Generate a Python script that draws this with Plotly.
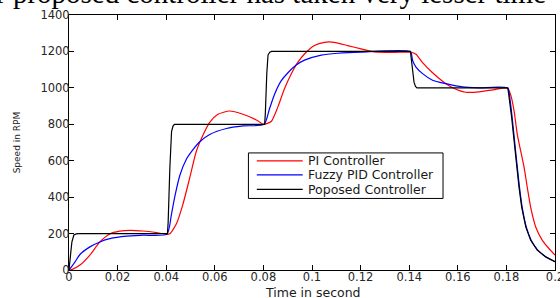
import plotly.graph_objects as go

# ---------------- data ----------------
t_pi = [0, 0.0011, 0.0045, 0.0086, 0.0127, 0.0168, 0.0209, 0.025, 0.0305, 0.036, 0.0402,
        0.0415, 0.0442, 0.0469, 0.0497, 0.0524, 0.0552, 0.0579, 0.0613, 0.0661, 0.0716, 0.0771, 0.0801,
        0.0832, 0.086, 0.0887, 0.0915, 0.0942, 0.0969, 0.101, 0.1051, 0.1092, 0.1147, 0.1202, 0.1257, 0.1339, 0.1405,
        0.1428, 0.1455, 0.1495, 0.1536, 0.1577, 0.1633, 0.1688, 0.1756, 0.1805,
        0.1818, 0.1832, 0.1845, 0.1859, 0.1873, 0.1886, 0.19, 0.1921, 0.1948, 0.1975, 0.2]
speed_pi = [0, 2, 27, 82, 154, 198, 213, 218, 214, 205, 196,
            199, 254, 362, 507, 652, 743, 811, 855, 873, 855, 824, 800,
            815, 897, 996, 1078, 1141, 1186, 1232, 1250, 1250, 1232, 1214, 1198, 1195, 1196,
            1184, 1138, 1084, 1038, 1002, 976, 978, 992, 998,
            960, 870, 743, 652, 562, 453, 344, 235, 163, 118, 82]

t_fuzzy = [0, 0.0025, 0.0045, 0.0086, 0.0127, 0.0168, 0.0237, 0.0305, 0.0403,
           0.0422, 0.0435, 0.0456, 0.0483, 0.0511, 0.0538, 0.0579, 0.0648, 0.0716, 0.0803,
           0.0825, 0.0846, 0.0873, 0.0901, 0.0935, 0.0969, 0.1038, 0.1106, 0.1202, 0.1405,
           0.1414, 0.1428, 0.1455, 0.1496, 0.1551, 0.1619, 0.1688, 0.1805,
           0.1816, 0.1824, 0.1831, 0.1838, 0.1845, 0.1854, 0.1865, 0.1882, 0.1902, 0.1929, 0.1963, 0.2]
speed_fuzzy = [0, 45, 85, 127, 154, 172, 186, 191, 197,
               310, 400, 519, 608, 662, 704, 744, 777, 791, 800,
               885, 965, 1038, 1083, 1125, 1152, 1180, 1190, 1196, 1198,
               1150, 1114, 1078, 1042, 1023, 1005, 1000, 998,
               924, 833, 743, 652, 562, 453, 344, 235, 163, 109, 72, 46]

t_prop = [0, 0.0004, 0.0008, 0.0012, 0.0016, 0.002, 0.003, 0.004,
          0.0405, 0.0408, 0.0415, 0.0422, 0.0428, 0.0434,
          0.0805, 0.0808, 0.0814, 0.0819, 0.0826, 0.0834,
          0.1405, 0.1409, 0.1415, 0.142, 0.1426, 0.1432,
          0.1806, 0.1814, 0.1822, 0.1829, 0.1836, 0.1843, 0.1852, 0.1863, 0.188, 0.19, 0.1927, 0.1962, 0.2]
speed_prop = [0, 40, 105, 155, 180, 192, 198, 200,
              200, 260, 560, 760, 790, 800,
              800, 860, 1080, 1180, 1196, 1200,
              1200, 1160, 1080, 1030, 1008, 1000,
              1000, 924, 833, 743, 652, 562, 453, 344, 235, 163, 109, 72, 45]

series_names = ["PI Controller", "Fuzzy PID Controller", "Poposed Controller"]
series_colors = ["#ff0000", "#0000ff", "#000000"]

x_tickvals = [0, 0.02, 0.04, 0.06, 0.08, 0.1, 0.12, 0.14, 0.16, 0.18, 0.2]
x_ticktext = ["0", "0.02", "0.04", "0.06", "0.08", "0.1", "0.12", "0.14", "0.16", "0.18", "0.2"]
y_tickvals = [0, 200, 400, 600, 800, 1000, 1200, 1400]

x_title = "Time in second"
y_title = "Speed in RPM"
caption_text = "our proposed controller has taken very lesser time"

# ---------------- layout geometry (page pixels; body margin removed below) ----------------
W, H = 560, 298
L, R, T, B = 68.5, 4.5, 14.5, 28
PW, PH = W - L - R, H - T - B


def px(x_page):
    return (x_page - L) / PW


def py(y_page):
    return (H - B - y_page) / PH


fig = go.Figure()
fig.add_trace(go.Scatter(x=t_pi, y=speed_pi, mode="lines", name=series_names[0],
                         line=dict(color=series_colors[0], width=1.2, shape="spline", smoothing=0.6)))
fig.add_trace(go.Scatter(x=t_fuzzy, y=speed_fuzzy, mode="lines", name=series_names[1],
                         line=dict(color=series_colors[1], width=1.2, shape="spline", smoothing=0.6)))
fig.add_trace(go.Scatter(x=t_prop, y=speed_prop, mode="lines", name=series_names[2],
                         line=dict(color=series_colors[2], width=1.2)))

tick_font = dict(family="DejaVu Sans", size=11.5, color="#262626")

fig.update_layout(
    width=W, height=H,
    margin=dict(l=L, r=R, t=T, b=B, pad=0, autoexpand=False),
    paper_bgcolor="white", plot_bgcolor="white",
    showlegend=False,
    xaxis=dict(range=[0, 0.2], tickvals=x_tickvals, ticktext=x_ticktext, automargin=False,
               showgrid=False, zeroline=False, showline=True, linecolor="#000", linewidth=1,
               mirror="ticks", ticks="inside", ticklen=5, tickcolor="#000",
               ticklabelstandoff=-4, ticklabeloverflow="allow", tickfont=tick_font),
    yaxis=dict(range=[0, 1400], tickvals=y_tickvals, automargin=False,
               showgrid=False, zeroline=False, showline=True, linecolor="#000", linewidth=1,
               mirror="ticks", ticks="inside", ticklen=5, tickcolor="#000",
               ticklabelstandoff=-4, tickfont=tick_font),
)

# axis titles as annotations (exact placement)
fig.add_annotation(xref="paper", yref="paper", x=px(313), y=py(293),
                   xanchor="center", yanchor="middle", showarrow=False, borderpad=0,
                   text=x_title, font=dict(family="DejaVu Sans", size=12.5, color="#1a1a1a"))
fig.add_annotation(xref="paper", yref="paper", x=px(16.5), y=py(142),
                   xanchor="center", yanchor="middle", showarrow=False, borderpad=0,
                   textangle=-90,
                   text=y_title, font=dict(family="DejaVu Sans", size=9, color="#1a1a1a"))

# legend box (drawn manually to match the compact MATLAB legend)
box = dict(x0=248.3, x1=443.3, y0=152.7, y1=198.3)
fig.add_shape(type="rect", xref="paper", yref="paper",
              x0=px(box["x0"]), x1=px(box["x1"]), y0=py(box["y1"]), y1=py(box["y0"]),
              line=dict(color="#000", width=1), fillcolor="white", layer="above")
row_y = [160.7, 174.7, 189.3]
for name, color, ry in zip(series_names, series_colors, row_y):
    fig.add_shape(type="line", xref="paper", yref="paper",
                  x0=px(256.7), x1=px(302.7), y0=py(ry), y1=py(ry),
                  line=dict(color=color, width=1.2), layer="above")
    fig.add_annotation(xref="paper", yref="paper", x=px(306.7), y=py(ry),
                       xanchor="left", yanchor="middle", showarrow=False,
                       text=name, font=dict(family="DejaVu Sans", size=12.5, color="#1a1a1a"),
                       borderpad=0)

# clipped caption text above the chart (lower part only visible, as in the source)
fig.add_annotation(xref="paper", yref="paper", x=px(547), y=py(9),
                   xanchor="right", yanchor="bottom", showarrow=False,
                   text=caption_text, borderpad=0,
                   font=dict(family="Liberation Serif", size=29, color="#000"))

fig.write_html("out.html", config={"displayModeBar": False, "staticPlot": True},
               post_script="document.body.style.margin='0';")
